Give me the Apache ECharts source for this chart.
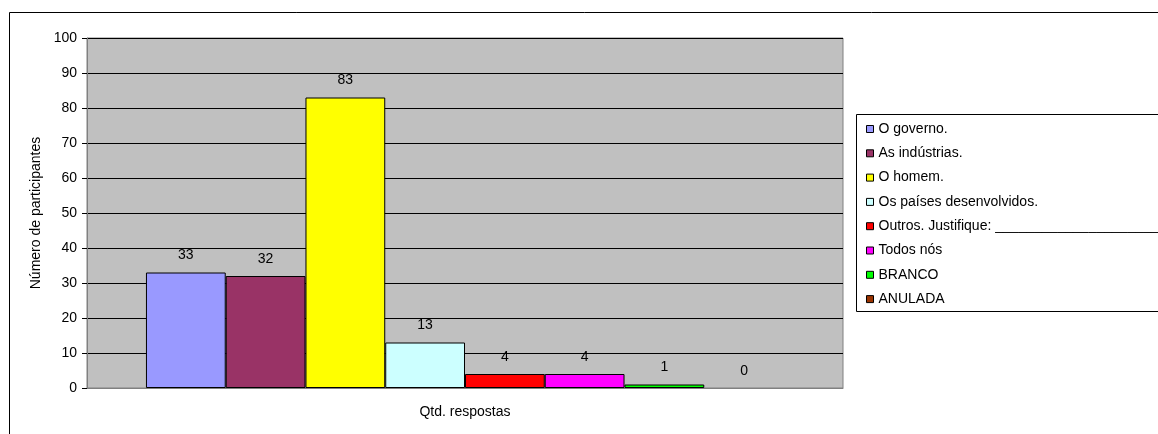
<!DOCTYPE html>
<html>
<head>
<meta charset="utf-8">
<script src="https://cdn.jsdelivr.net/npm/echarts@6/dist/echarts.min.js"></script>
<style>
  html, body { margin: 0; padding: 0; background: #fff; }
  #chart { width: 1158px; height: 434px; }
</style>
</head>
<body>
<div id="chart"></div>
<script>
// Survey answers: who is responsible (one category, one bar per answer)
const categories = ['Qtd. respostas'];
const seriesNames = [
  'O governo.',
  'As indústrias.',
  'O homem.',
  'Os países desenvolvidos.',
  'Outros. Justifique: ______________________________',
  'Todos nós',
  'BRANCO',
  'ANULADA'
];
const seriesValues = [33, 32, 83, 13, 4, 4, 1, 0];
const seriesColors = ['#9999FF', '#993366', '#FFFF00', '#CCFFFF', '#FF0000', '#FF00FF', '#00FF00', '#993300'];
const yTicks = { min: 0, max: 100, interval: 10 };

const font = '"Liberation Sans", Arial, sans-serif';
const fs = 14;

const series = seriesNames.map((name, i) => ({
  name: name,
  type: 'bar',
  // a zero-height bar gets no outline, so nothing is stroked along the axis
  data: [{
    value: seriesValues[i],
    itemStyle: seriesValues[i] === 0 ? { borderWidth: 0 } : undefined
  }],
  barGap: '0%',
  barCategoryGap: '15.6%',
  itemStyle: { color: seriesColors[i], borderColor: '#000', borderWidth: 1 },
  label: {
    show: true,
    position: 'top',
    distance: 10,
    color: '#000',
    fontFamily: font,
    fontSize: fs
  },
  emphasis: { disabled: true }
}));

const chart = echarts.init(document.getElementById('chart'), null, { renderer: 'canvas' });
chart.setOption({
  backgroundColor: '#fff',
  animation: false,
  graphic: [
    {
      type: 'rect',
      shape: { x: 9.5, y: 12.5, width: 1200, height: 500 },
      style: { fill: 'none', stroke: '#000', lineWidth: 1 },
      z: -1
    },
    {
      type: 'rect',
      shape: { x: 856.5, y: 114.5, width: 400, height: 197 },
      style: { fill: '#fff', stroke: '#000', lineWidth: 1 },
      z: 0
    }
  ],
  grid: {
    left: 87,
    top: 38,
    width: 756,
    height: 350,
    show: true,
    backgroundColor: '#C0C0C0',
    borderColor: '#808080',
    borderWidth: 1
  },
  legend: {
    orient: 'vertical',
    left: 861,
    top: 116,
    itemWidth: 7,
    itemHeight: 7,
    itemGap: 8.3,
    icon: 'rect',
    itemStyle: { borderColor: '#000', borderWidth: 1 },
    textStyle: { fontFamily: font, fontSize: fs, color: '#000', lineHeight: 16 },
    z: 5
  },
  xAxis: {
    type: 'category',
    data: categories,
    name: 'Qtd. respostas',
    nameLocation: 'middle',
    nameGap: 17,
    nameTextStyle: { fontFamily: font, fontSize: fs, color: '#000' },
    axisLine: { show: true, lineStyle: { color: '#808080' } },
    axisTick: { show: false },
    axisLabel: { show: false }
  },
  yAxis: {
    type: 'value',
    min: yTicks.min,
    max: yTicks.max,
    interval: yTicks.interval,
    name: 'Número de participantes',
    nameLocation: 'middle',
    nameGap: 44,
    nameRotate: 90,
    nameTextStyle: { fontFamily: font, fontSize: fs, color: '#000' },
    axisLine: { show: true, lineStyle: { color: '#808080' } },
    axisTick: { show: true, length: 5, lineStyle: { color: '#000' } },
    axisLabel: { fontFamily: font, fontSize: fs, color: '#000', margin: 10 },
    splitLine: { show: true, lineStyle: { color: '#000', width: 1 } }
  },
  series: series
});
</script>
</body>
</html>
